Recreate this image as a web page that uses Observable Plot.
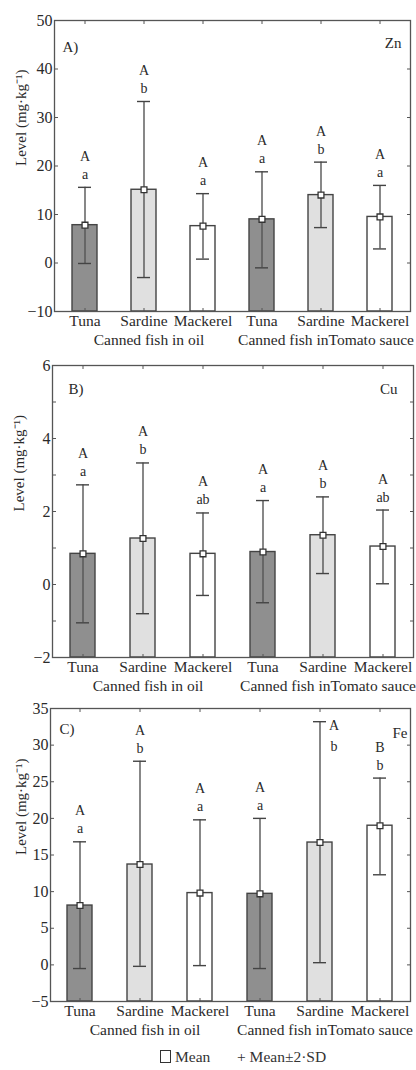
<!DOCTYPE html>
<html><head><meta charset="utf-8">
<script src="https://cdn.jsdelivr.net/npm/d3@7"></script>
<script src="https://cdn.jsdelivr.net/npm/@observablehq/plot@0.6"></script>
<style>
body{margin:0;background:#fff;width:416px;font-family:"Liberation Serif",serif;color:#333;}
svg{overflow:visible;display:block}
#legend{height:25px;position:relative;font-size:15.5px;}
#legend .item{position:absolute;top:3px;white-space:nowrap}
#legend .sq{display:inline-block;width:9px;height:11px;border:1.3px solid #333;vertical-align:-1px;margin-right:4px;background:#fff}
</style></head><body><div id="chart"></div>
<div id="legend"><span class="item" style="left:160px"><span class="sq"></span>Mean</span><span class="item" style="left:237px">+ Mean±2·SD</span></div>
<script>
// ---- data ----
const categories = ["Tuna", "Sardine", "Mackerel", "Tuna", "Sardine", "Mackerel"];
const groupLabels = ["Canned fish in oil", "Canned fish inTomato sauce"];
const yLabel = "Level (mg·kg⁻¹)";

const znMean = [7.8, 15.1, 7.6, 9.0, 14.0, 9.5];
const znLow  = [-0.1, -3.0, 0.8, -1.0, 7.3, 2.9];
const znHigh = [15.6, 33.3, 14.3, 18.8, 20.8, 16.0];
const znUpper = ["A", "A", "A", "A", "A", "A"];
const znLower = ["a", "b", "a", "a", "b", "a"];
const znTicks = [-10, 0, 10, 20, 30, 40, 50];

const cuMean = [0.84, 1.26, 0.84, 0.89, 1.35, 1.04];
const cuLow  = [-1.05, -0.80, -0.30, -0.50, 0.30, 0.02];
const cuHigh = [2.73, 3.33, 1.96, 2.30, 2.40, 2.04];
const cuUpper = ["A", "A", "A", "A", "A", "A"];
const cuLower = ["a", "b", "ab", "a", "b", "ab"];
const cuTicks = [-2, 0, 2, 4, 6];
const cuMinorTicks = [-2, -1, 0, 1, 2, 3, 4, 5, 6];

const feMean = [8.1, 13.7, 9.8, 9.7, 16.7, 19.0];
const feLow  = [-0.5, -0.2, -0.1, -0.5, 0.3, 12.3];
const feHigh = [16.8, 27.8, 19.8, 20.0, 33.2, 25.5];
const feUpper = ["A", "A", "A", "A", "A", "B"];
const feLower = ["a", "b", "a", "a", "b", "b"];
const feTicks = [-5, 0, 5, 10, 15, 20, 25, 30, 35];

// ---- styles ----
const fillMap = {Tuna: "#8f8f8f", Sardine: "#e0e0e0", Mackerel: "#ffffff"};
const ink = "#2a2a2a";

function panel(o) {
  const [yMin, yMax] = [o.ticks[0], o.ticks[o.ticks.length - 1]];
  const data = categories.map((c, i) => ({
    key: String(i), name: c, mean: o.mean[i], lo: o.low[i], hi: o.high[i],
    up: o.upper[i], low: o.lower[i]
  }));
  const pxPerUnit = (o.height - o.mt - o.mb) / (yMax - yMin);
  const fits = d => d.hi + 33 / pxPerUnit <= yMax;
  const normal = data.filter(fits);
  const over = data.filter(d => !fits(d));
  const keys = data.map(d => d.key);
  return Plot.plot({
    width: 416, height: o.height,
    marginTop: o.mt, marginBottom: o.mb, marginLeft: o.ml, marginRight: o.mr,
    style: {fontFamily: "Liberation Serif, serif", fontSize: "15px", background: "transparent", color: ink, overflow: "visible"},
    x: {domain: keys, type: "band", paddingInner: 0.58, paddingOuter: 0.29},
    y: {domain: [yMin, yMax]},
    marks: [
      Plot.barY(data, {x: "key", y1: yMin, y2: "mean", fill: d => fillMap[d.name], stroke: "#444", strokeWidth: 1.4}),
      Plot.axisX({anchor: "bottom", tickSize: -3, tickFormat: () => "", label: null, stroke: "#555"}),
      Plot.axisX({anchor: "top", tickSize: -3, tickFormat: () => "", label: null, stroke: "#555"}),
      Plot.axisX({anchor: "bottom", tickSize: 0, tickPadding: 3, tickFormat: k => categories[+k], label: null, fontSize: 15.5, fill: ink}),
      Plot.text([groupLabels[0], groupLabels[1]], {x: (d, i) => i === 0 ? "1" : "4", frameAnchor: "bottom", dy: 33, dx: 5, fontSize: 15.5, fill: ink}),
      Plot.axisY({anchor: "left", ticks: o.ticks, tickSize: 0, tickPadding: 2, label: null, fontSize: 16, fill: ink}),
      Plot.axisY({anchor: "left", ticks: o.minor || o.ticks, tickSize: -4, tickFormat: () => "", label: null, stroke: "#555"}),
      Plot.axisY({anchor: "right", ticks: o.minor || o.ticks, tickSize: -4, tickFormat: () => "", label: null, stroke: "#555"}),
      Plot.ruleX(data, {x: "key", y1: "lo", y2: "hi", stroke: "#555", strokeWidth: 1.4}),
      Plot.tickY(data, {x: "key", y: "lo", inset: 6, stroke: "#444", strokeWidth: 1.4}),
      Plot.tickY(data, {x: "key", y: "hi", inset: 6, stroke: "#444", strokeWidth: 1.4}),
      Plot.dot(data, {x: "key", y: "mean", symbol: "square", r: 3.3, fill: "white", stroke: "#333", strokeWidth: 1.3}),
      Plot.text(normal, {x: "key", y: "hi", text: "low", dy: -13, fontSize: 14, fill: ink}),
      Plot.text(normal, {x: "key", y: "hi", text: "up", dy: -31, fontSize: 14, fill: ink}),
      Plot.text(over, {x: "key", y: "hi", text: "up", dx: 14, dy: 4, fontSize: 14, fill: ink}),
      Plot.text(over, {x: "key", y: "hi", text: "low", dx: 14, dy: 25, fontSize: 14, fill: ink}),
      Plot.frame({stroke: "#555", strokeWidth: 1.3}),
      Plot.text([yLabel], {frameAnchor: "left", dx: o.labelDx, rotate: -90, fontSize: 15, fill: ink}),
      Plot.text([o.tag], {frameAnchor: "top-left", dx: o.tagDx, dy: o.tagDy, textAnchor: "start", fontSize: 15, fill: ink}),
      Plot.text([o.element], {frameAnchor: "top-right", dx: o.elDx, dy: o.elDy, textAnchor: "end", fontSize: 15, fill: ink})
    ]
  });
}

const chart = document.getElementById("chart");
chart.append(panel({mean: znMean, low: znLow, high: znHigh, upper: znUpper, lower: znLower, ticks: znTicks,
  height: 355, mt: 20, mb: 44, ml: 54, mr: 6, labelDx: -33, tag: "A)", tagDx: 8, tagDy: 21, element: "Zn", elDx: -9, elDy: 17}));
chart.append(panel({mean: cuMean, low: cuLow, high: cuHigh, upper: cuUpper, lower: cuLower, ticks: cuTicks, minor: cuMinorTicks,
  height: 343, mt: 10, mb: 41, ml: 52, mr: 3, labelDx: -33, tag: "B)", tagDx: 16, tagDy: 18, element: "Cu", elDx: -16, elDy: 18}));
chart.append(panel({mean: feMean, low: feLow, high: feHigh, upper: feUpper, lower: feLower, ticks: feTicks,
  height: 347, mt: 10, mb: 44, ml: 50, mr: 6, labelDx: -29, tag: "C)", tagDx: 9, tagDy: 15, element: "Fe", elDx: -3, elDy: 19}));
</script></body></html>
